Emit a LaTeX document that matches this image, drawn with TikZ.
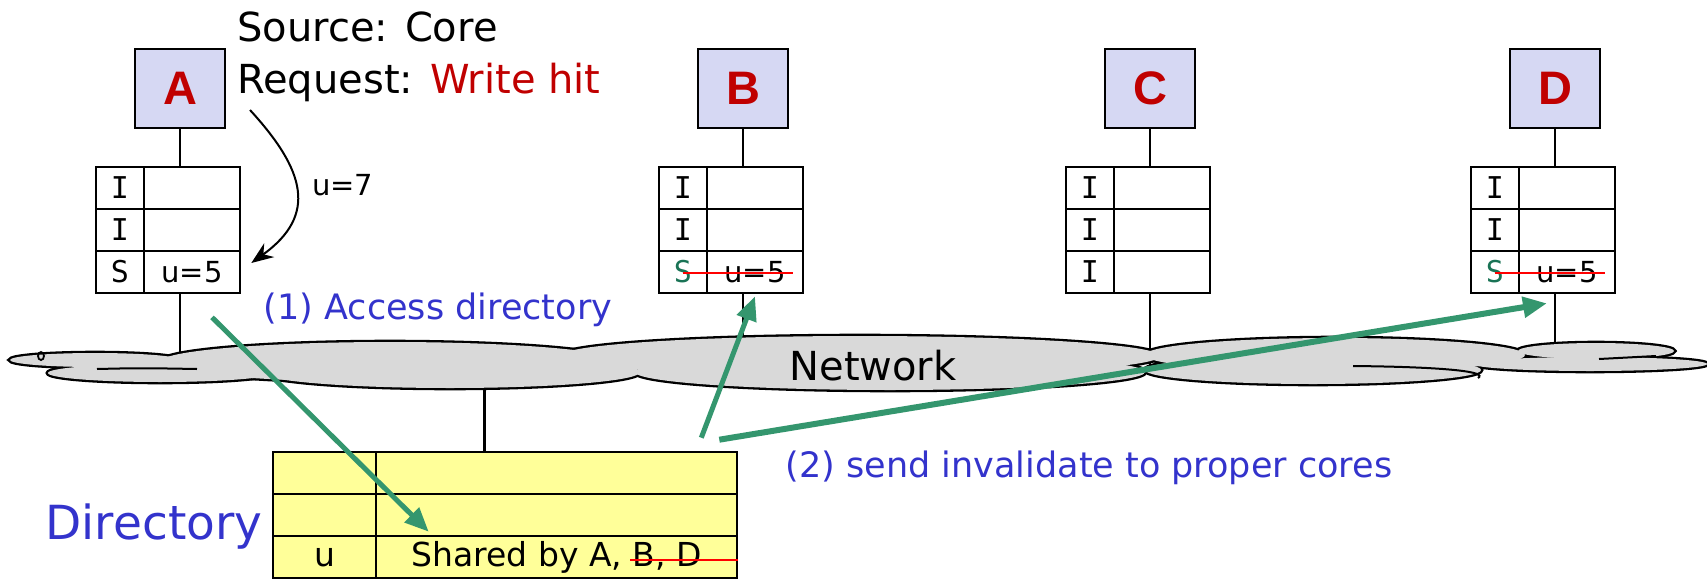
\documentclass[tikz,border=0pt]{standalone}
\usepackage{fontspec}
\setmainfont{DejaVu Sans}
\newfontfamily\letterfont{Liberation Sans}
\newfontfamily\statefont{DejaVu Sans Mono}
\usetikzlibrary{arrows.meta,calc}

\definecolor{corefill}{RGB}{214,216,243}
\definecolor{letterred}{RGB}{192,0,0}
\definecolor{labelblue}{RGB}{51,51,204}
\definecolor{flowgreen}{RGB}{52,150,110}
\definecolor{stategreen}{RGB}{25,115,85}
\definecolor{diryellow}{RGB}{255,255,153}
\definecolor{netgray}{RGB}{217,217,217}

% elliptic lobes of the network cloud: x/y/x radius/y radius
\newcommand\netlobes{95/360/85/7, 160/373/112/9, 390/362/230/20, 450/372/190/16,
  860/356/300/20, 890/372/255/18, 1335/355/190/17, 1313/370/168/14,
  1596/351/78/8, 1590/364/117/7}

\begin{document}
\begin{tikzpicture}[x=1pt,y=-1pt,
  core/.style={draw, line width=2.6pt, fill=corefill, minimum width=90pt,
    minimum height=79pt, inner sep=0pt, text=letterred,
    font=\letterfont\bfseries\fontsize{47}{47}\selectfont},
  statecell/.style={draw, line width=2.6pt, minimum width=48pt, minimum height=42pt,
    inner sep=0pt, font=\statefont\fontsize{30}{30}\selectfont},
  datacell/.style={draw, line width=2.6pt, minimum width=96pt, minimum height=42pt,
    inner sep=0pt, font=\fontsize{29}{29}\selectfont},
  dkey/.style={draw, line width=2.6pt, fill=diryellow, minimum width=103pt,
    minimum height=42pt, inner sep=0pt, font=\fontsize{33}{33}\selectfont},
  dval/.style={dkey, minimum width=361pt},
  wire/.style={line width=2.8pt},
  strike/.style={red, line width=2.4pt},
  garrow/.style={flowgreen, line width=5pt,
    -{Triangle[length=24pt,width=20pt]}},
  bluelabel/.style={text=labelblue, inner sep=0pt, font=\fontsize{35}{35}\selectfont},
  plain/.style={inner sep=0pt, font=\fontsize{40}{40}\selectfont}]

\useasboundingbox (0,0) rectangle (1707,578);
\coordinate (net) at (873,366);

% cores with their three-line caches
\foreach \n/\cx/\sc/\scol/\dc in {A/180/S/black/u=5, B/743/S/stategreen/u=5,
    C/1150/I/black/{}, D/1555/S/stategreen/u=5}{
  \node[core] (\n) at (\cx,88.5) {\n};
  \node[statecell] (\n-s1) at (\cx-60,188) {I};
  \node[datacell]  (\n-d1) at (\cx+12,188) {};
  \node[statecell] (\n-s2) at (\cx-60,230) {I};
  \node[datacell]  (\n-d2) at (\cx+12,230) {};
  \node[statecell, text=\scol] (\n-s3) at (\cx-60,272) {\sc};
  \node[datacell]  (\n-d3) at (\cx+12,272) {\dc};
  \draw[wire] (\n.south) -- (\n.south |- \n-d1.north);
  \draw[wire] (\n.south |- \n-d3.south) -- (\n.south |- net);
}

% invalidated copies
\foreach \n in {B,D}
  \draw[strike] ($(\n-s3.center)+(0,1)$) -- ($(\n-d3.east)+(-11,1)$);

% directory
\node[dkey] (k1) at (324.5,473) {};
\node[dval] (v1) at (556.5,473) {};
\node[dkey] (k2) at (324.5,515) {};
\node[dval] (v2) at (556.5,515) {};
\node[dkey] (k3) at (324.5,557) {u};
\node[dval] (v3) at (556.5,557) {Shared by A, B, D};
\draw[strike] ($(v3.east)+(-108,3)$) -- ($(v3.east)+(0,3)$);
\draw[wire] (v1.north west) ++(110,0) -- ++(0,-80);
\node[text=labelblue, inner sep=0pt, font=\fontsize{47}{47}\selectfont]
  (dirlabel) at (154,527) {Directory};

% network cloud: outlines first, then the fill hides the inner edges
\foreach \x/\y/\rx/\ry in \netlobes
  \draw[line width=4.6pt] (\x,\y) ellipse [x radius=\rx pt, y radius=\ry pt];
\foreach \x/\y/\rx/\ry in \netlobes
  \fill[netgray] (\x,\y) ellipse [x radius=\rx pt, y radius=\ry pt];
\draw[line width=2pt] (97,369) .. controls (140,368) .. (197,369);
\draw[line width=2pt] (1353,366) .. controls (1450,367) and (1488,372) .. (1478,378);
\draw[line width=2pt] (1599,359) -- (1656,356);
\draw[line width=1.8pt] (41,356) ellipse [x radius=3pt, y radius=4pt];
\node[plain] (netlabel) at (net) {Network};

% request at core A
\node[plain, anchor=base west] (src) at (237,42) {Source: Core};
\node[plain, anchor=base west] (req) at (237,93)
  {Request: \textcolor{letterred}{Write hit}};
\coordinate (wstart) at (250,110);
\draw[line width=2pt, -{Stealth[length=22pt,width=17pt]}]
  (wstart) .. controls (305,170) and (318,215) .. ($(A-d3.east)+(10,-9)$);
\node[inner sep=0pt, anchor=west, font=\fontsize{29}{29}\selectfont]
  (u7) at (312,185) {u=7};

% message flow
\coordinate (a1start) at ($(A-d3.south)+(20,23)$);
\draw[garrow] (a1start) -- ($(v3.north west)+(54,-3)$);
\coordinate (a2start) at ($(v1.north east)+(-37,-13)$);
\draw[garrow] (a2start) -- ($(B-d3.south)+(0,2)$);
\coordinate (a3start) at ($(v1.north east)+(-19,-11)$);
\draw[garrow, line width=6pt] (a3start) -- ($(D-d3.south)+(-20,9)$);

\node[bluelabel] (step1) at (438,310) {(1) Access directory};
\node[bluelabel] (step2) at (1089,468) {(2) send invalidate to proper cores};
\end{tikzpicture}
\end{document}
